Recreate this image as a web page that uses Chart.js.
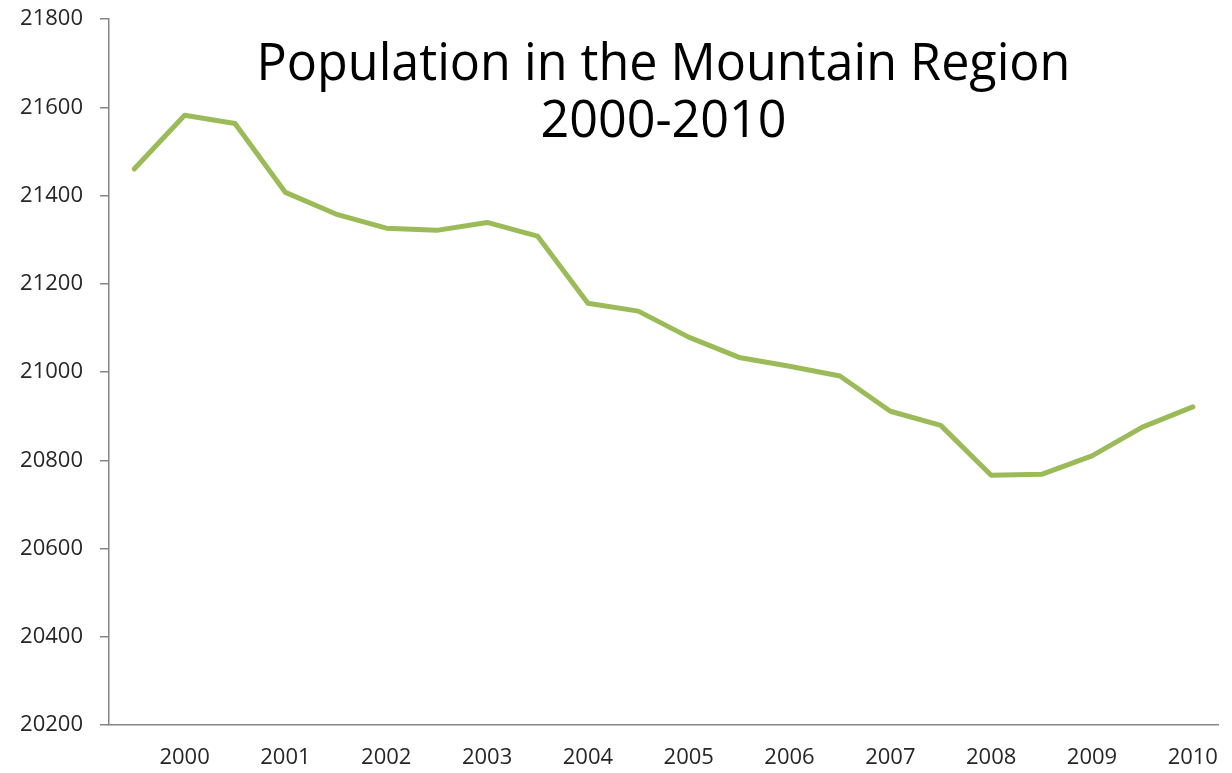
<!DOCTYPE html>
<html>
<head>
<meta charset="utf-8">
<script src="https://cdn.jsdelivr.net/npm/chart.js@4.4.1/dist/chart.umd.min.js"></script>
<style>
html, body { margin: 0; padding: 0; background: #fff; overflow: hidden; }
canvas { display: block; }
</style>
</head>
<body>
<canvas id="popChart" width="1232" height="773"></canvas>
<script>
// half-year points, year label on every second one
var periodLabels = ['', '2000', '', '2001', '', '2002', '', '2003', '', '2004', '', '2005',
	'', '2006', '', '2007', '', '2008', '', '2009', '', '2010'];
var population = [21460, 21582, 21563, 21407, 21358, 21326, 21321, 21339, 21308, 21156, 21138,
	21079, 21033, 21013, 20991, 20911, 20879, 20766, 20768, 20810, 20875, 20921];
var yTicks = { min: 20200, max: 21800, step: 200 };
var titleLines = ['Population in the Mountain Region', '2000-2010'];

var titlePlugin = {
	id: 'overlayTitle',
	afterDraw: function(chart) {
		var ctx = chart.ctx;
		var area = chart.chartArea;
		var cx = (area.left + area.right) / 2;
		ctx.save();
		ctx.fillStyle = '#000';
		ctx.textAlign = 'center';
		ctx.textBaseline = 'alphabetic';
		// size the font so the first line spans about 814px
		var size = 50;
		ctx.font = size + 'px "Open Sans"';
		var w = ctx.measureText(titleLines[0]).width;
		size = size * 814 / w;
		ctx.font = size + 'px "Open Sans"';
		ctx.fillText(titleLines[0], cx, area.top + 61);
		ctx.fillText(titleLines[1], cx, area.top + 118);
		ctx.restore();
	}
};

var ctx = document.getElementById('popChart');
var myChart = new Chart(ctx, {
	type: 'line',
	data: {
		labels: periodLabels,
		datasets: [{
			data: population,
			borderColor: '#9bbb59',
			backgroundColor: '#9bbb59',
			borderWidth: 5,
			pointRadius: 0,
			tension: 0,
			fill: false,
			borderCapStyle: 'round',
			borderJoinStyle: 'round'
		}]
	},
	options: {
		responsive: false,
		animation: false,
		layout: { autoPadding: false, padding: { left: 0, right: 14, top: 19, bottom: 0 } },
		plugins: {
			legend: { display: false },
			tooltip: { enabled: false }
		},
		scales: {
			x: {
				offset: true,
				afterFit: function(scale) {
					scale.height = 48;
					scale.paddingLeft = 0;
					scale.paddingRight = 0;
				},
				grid: { display: true, drawOnChartArea: false, drawTicks: false },
				border: { color: '#868686', width: 1.5 },
				ticks: {
					autoSkip: false,
					maxRotation: 0,
					padding: 20,
					color: '#262626',
					font: { family: '"Open Sans"', size: 22 }
				}
			},
			y: {
				min: yTicks.min,
				max: yTicks.max,
				afterFit: function(scale) {
					scale.width = 109;
					scale.paddingTop = 0;
					scale.paddingBottom = 0;
				},
				grid: { drawOnChartArea: false, tickLength: 9, color: '#868686', lineWidth: 1.5 },
				border: { color: '#868686', width: 1.5 },
				ticks: {
					stepSize: yTicks.step,
					padding: 17,
					color: '#262626',
					font: { family: '"Open Sans"', size: 22 },
					callback: function(v) { return String(v); }
				}
			}
		}
	},
	plugins: [titlePlugin]
});
</script>
</body>
</html>
